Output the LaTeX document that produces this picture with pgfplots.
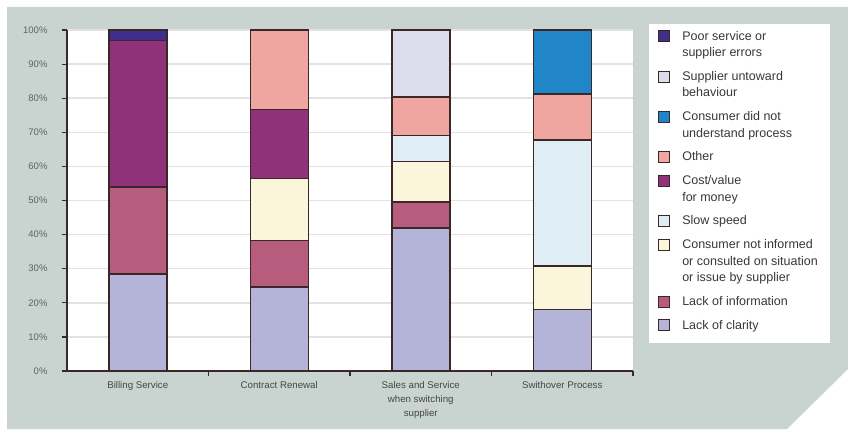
\documentclass[border=0pt]{standalone}
\usepackage{pgfplots}
\pgfplotsset{compat=1.18}
\usepackage{pgfplotstable}
\usepackage{fontspec}
\setmainfont{Liberation Sans}
\definecolor{panel}{RGB}{201,211,208}
\definecolor{outl}{RGB}{58,40,40}
\definecolor{cClar}{RGB}{180,180,216}
\definecolor{cInfo}{RGB}{184,92,126}
\definecolor{cNotinf}{RGB}{251,245,220}
\definecolor{cSlow}{RGB}{223,238,245}
\definecolor{cCost}{RGB}{143,50,122}
\definecolor{cOther}{RGB}{239,166,160}
\definecolor{cCdnu}{RGB}{32,134,199}
\definecolor{cUnto}{RGB}{220,220,236}
\definecolor{cPoor}{RGB}{64,46,140}
\definecolor{gridc}{RGB}{226,226,226}
\definecolor{txt}{RGB}{70,70,70}

\pgfplotstableread{
x clar info notinf slow cost other cdnu unto poor
0 28.4 25.6 0 0 42.9 0 0 0 3.1
1 24.7 13.5 18.2 0 20.3 23.3 0 0 0
2 41.9 7.7 11.9 7.6 0 11.3 0 19.6 0
3 18.0 0 12.8 36.9 0 13.5 18.8 0 0
}\data

\pgfplotsset{
  mybar/.style 2 args={fill=#1, draw=outl, line width=1.5pt,
    legend image code/.code={%
      \path[draw=none, fill=none] (0pt,-#2pt-5.5pt) rectangle (11pt,#2pt+5.5pt);
      \draw[fill=#1, draw=outl, line width=1pt] (0pt,#2pt-5.5pt) rectangle (11pt,#2pt+5.5pt);}},
}

\begin{document}
\begin{tikzpicture}
\path[use as bounding box] (0,0) rectangle (848pt,429pt);
\fill[white] (0,0) rectangle (848pt,429pt);
\fill[panel] (7pt,0) -- (787pt,0) -- (848pt,60pt) -- (848pt,422pt) -- (7pt,422pt) -- cycle;
\fill[white] (649pt,86pt) rectangle (830pt,405pt);
\begin{axis}[
  at={(67pt,58pt)}, anchor=south west,
  scale only axis, width=566pt, height=341pt,
  ybar stacked, bar width=58pt,
  xmin=-0.5, xmax=3.5, ymin=0, ymax=100,
  axis background/.style={fill=white},
  axis x line*=bottom, axis y line*=left,
  axis line style={outl, line width=1.6pt},
  tick align=outside,
  xtick={0,1,2,3},
  xticklabels={Billing Service, Contract Renewal, {Sales and Service\\when switching\\supplier}, Swithover Process},
  major x tick style={draw=none},
  minor xtick={0.5,1.5,2.5,3.5},
  minor x tick style={draw=outl, line width=1.2pt},
  minor tick length=5pt,
  ytick={0,10,...,100},
  yticklabel={\pgfmathprintnumber{\tick}\%},
  /pgf/number format/assume math mode=true,
  major y tick style={draw=outl, line width=1.2pt},
  major tick length=5pt,
  ymajorgrids, grid style={gridc, line width=1.5pt},
  xticklabel style={align=center, font=\fontsize{9.7}{14}\selectfont, text=txt, yshift=-1.5pt},
  yticklabel style={font=\fontsize{9.5}{12}\selectfont, text=txt!85, xshift=-11pt},
  reverse legend,
  legend style={at={(1.039,1.009)}, anchor=north west, draw=none, fill=none,
    row sep=9.2pt, column sep=10pt, font=\fontsize{12.5}{16.5}\selectfont, text=black!78,
    cells={anchor=west, align=left}},
]
\addplot[mybar={cClar}{0}] table[x=x,y=clar]{\data};
\addlegendentry{Lack of clarity}
\addplot[mybar={cInfo}{0}] table[x=x,y=info]{\data};
\addlegendentry{Lack of information}
\addplot[mybar={cNotinf}{16.5}] table[x=x,y=notinf]{\data};
\addlegendentry{Consumer not informed\\or consulted on situation\\or issue by supplier}
\addplot[mybar={cSlow}{0}] table[x=x,y=slow]{\data};
\addlegendentry{Slow speed}
\addplot[mybar={cCost}{8.25}] table[x=x,y=cost]{\data};
\addlegendentry{Cost/value\\for money}
\addplot[mybar={cOther}{0}] table[x=x,y=other]{\data};
\addlegendentry{Other}
\addplot[mybar={cCdnu}{8.25}] table[x=x,y=cdnu]{\data};
\addlegendentry{Consumer did not\\understand process}
\addplot[mybar={cUnto}{8.25}] table[x=x,y=unto]{\data};
\addlegendentry{Supplier untoward\\behaviour}
\addplot[mybar={cPoor}{8.25}] table[x=x,y=poor]{\data};
\addlegendentry{Poor service or\\supplier errors}
\draw[gray!50, line width=1pt] (rel axis cs:1,0) -- (rel axis cs:1,1);
\end{axis}
\end{tikzpicture}
\end{document}
